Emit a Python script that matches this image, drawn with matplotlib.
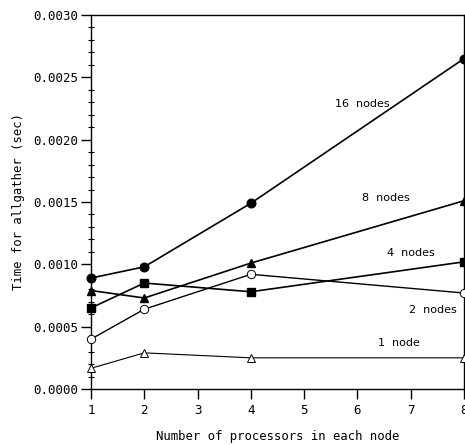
import matplotlib
matplotlib.use("Agg")
import matplotlib.pyplot as plt
from matplotlib.ticker import MultipleLocator, FormatStrFormatter

# processors per node
procs = [1, 2, 4, 8]

# allgather time (sec) for each node count
t_16 = [0.00089, 0.00098, 0.00149, 0.00265]
t_8 = [0.00079, 0.00073, 0.00101, 0.00151]
t_4 = [0.00065, 0.00085, 0.00078, 0.00102]
t_2 = [0.00040, 0.00064, 0.00092, 0.00077]
t_1 = [0.000166, 0.00029, 0.00025, 0.00025]

# curve labels and where they sit
labels = ["16  nodes", "8  nodes", "4  nodes", "2  nodes", "1  node"]
label_x = [6.1, 6.53, 7.0, 7.42, 6.78]
label_y = [0.00229, 0.00153, 0.00109, 0.00063, 0.00037]

mono = "DejaVu Sans Mono"

fig = plt.figure(figsize=(4.65, 4.45), dpi=100)
ax = fig.add_axes([91 / 465, 56 / 445, 373 / 465, 374 / 445])

kw = dict(color="black", clip_on=False, zorder=3)
ax.plot(procs, t_16, marker="o", ms=6.2, lw=1.2, mfc="black", **kw)
ax.plot(procs, t_8, marker="^", ms=6.0, lw=1.2, mfc="black", **kw)
ax.plot(procs, t_4, marker="s", ms=6.0, lw=1.2, mfc="black", **kw)
ax.plot(procs, t_2, marker="o", ms=6.0, lw=1.0, mfc="white", mew=0.7, **kw)
ax.plot(procs, t_1, marker="^", ms=6.0, lw=0.8, mfc="white", mew=0.7, **kw)

for txt, x, y in zip(labels, label_x, label_y):
    ax.text(x, y, txt, ha="center", va="center", fontsize=8.0,
            family="DejaVu Sans")

ax.set_xlim(1, 8)
ax.set_ylim(0, 0.003)
ax.xaxis.set_major_locator(MultipleLocator(1))
ax.yaxis.set_major_locator(MultipleLocator(0.0005))
ax.yaxis.set_minor_locator(MultipleLocator(0.0001))
ax.yaxis.set_major_formatter(FormatStrFormatter("%.4f"))

ax.tick_params(axis="x", direction="out", length=7, width=1, pad=4)
ax.tick_params(axis="y", which="major", direction="out", length=7, width=1, pad=2)
ax.tick_params(axis="y", which="minor", direction="inout", length=5, width=0.8)
for lab in ax.get_xticklabels() + ax.get_yticklabels():
    lab.set_family(mono)
    lab.set_fontsize(9)

for s in ax.spines.values():
    s.set_linewidth(1.0)

ax.set_xlabel("Number of processors in each node", family=mono, fontsize=8.8,
              labelpad=9)
ax.set_ylabel("Time for allgather (sec)", family=mono, fontsize=8.8,
              labelpad=6)

fig.savefig("out.png", dpi=100)
